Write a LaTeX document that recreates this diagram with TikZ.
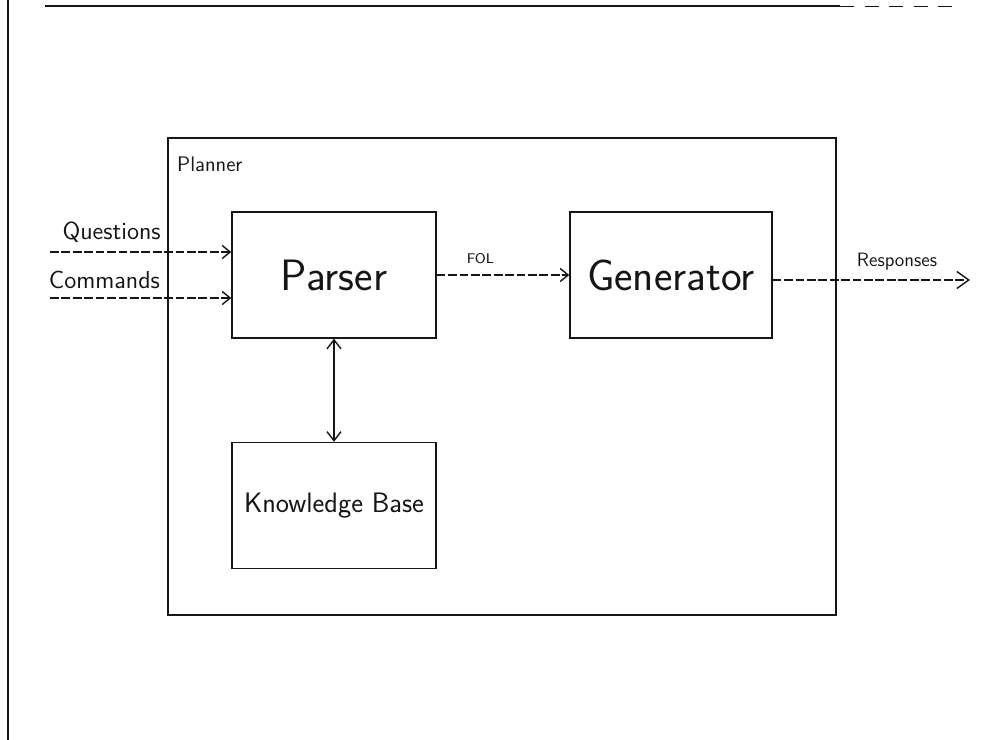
\documentclass[tikz,border=0pt]{standalone}
\usepackage{tikz}
\usepackage{xcolor}
\usetikzlibrary{arrows.meta,positioning,calc}
\definecolor{Ink}{HTML}{151515}
\tikzset{
  block/.style={
    draw=Ink,line width=0.8pt,fill=white,
    minimum width=4.08cm,minimum height=2.52cm,inner sep=0pt,
    font=\sffamily\fontsize{25}{25}\selectfont,text=Ink
  },
  frame/.style={
    draw=Ink,line width=0.8pt,
    minimum width=13.36cm,minimum height=9.54cm,inner sep=0pt
  },
  link/.style={-{Straight Barb[length=1.6mm,width=2.6mm]},line width=0.8pt,
    draw=Ink,dash pattern=on 5pt off 1.5pt},
  twoway/.style={{Straight Barb[length=1.8mm,width=2.8mm]}-{Straight Barb[length=1.8mm,width=2.8mm]},
    line width=0.8pt,draw=Ink},
  tag/.style={font=\sffamily\fontsize{14}{14}\selectfont,text=Ink,inner sep=2pt}
}

\begin{document}
\begin{tikzpicture}[x=0.02cm,y=-0.02cm]
  \useasboundingbox (0,0) rectangle (995,740);
  % edges of the scanned sheet
  \draw[Ink,line width=0.7pt] (8,0) -- (8,740);
  \draw[Ink,line width=0.7pt] (45,6) -- (840,6);
  \draw[Ink,line width=0.5pt,dash pattern=on 8pt off 6pt] (840,6) -- (960,6);

  \node[frame] (planner) at (502,376.5) {};
  \node[tag,anchor=north west,font=\sffamily\fontsize{12}{12}\selectfont] (plannerlabel)
    at ($(planner.north west)+(6,16)$) {Planner};

  \node[block] (parser) at (334,275) {Parser};
  \node[block,minimum width=4.04cm] (gen) at (671,275) {Generator};
  \node[block,font=\sffamily\fontsize{16}{16}\selectfont] (kb) at (334,505.5) {Knowledge Base};

  \coordinate (qin) at (50,252);
  \coordinate (cin) at (50,298);
  \coordinate (resp) at (970,280);

  \draw[link] (qin) -- node[tag,pos=0.34,above=3pt] {Questions} (qin -| parser.west);
  \draw[link] (cin) -- node[tag,pos=0.30,above=3pt] {Commands} (cin -| parser.west);
  \draw[link] (parser) -- node[tag,pos=0.33,above=4pt,font=\sffamily\fontsize{8}{8}\selectfont] {FOL} (gen);
  \draw[link,-{Straight Barb[length=2.4mm,width=3.4mm]}] (gen.east |- resp) --
    node[tag,pos=0.63,above=3pt,font=\sffamily\fontsize{11}{11}\selectfont] {Responses} (resp);
  \draw[twoway] (parser) -- (kb);
\end{tikzpicture}
\end{document}
